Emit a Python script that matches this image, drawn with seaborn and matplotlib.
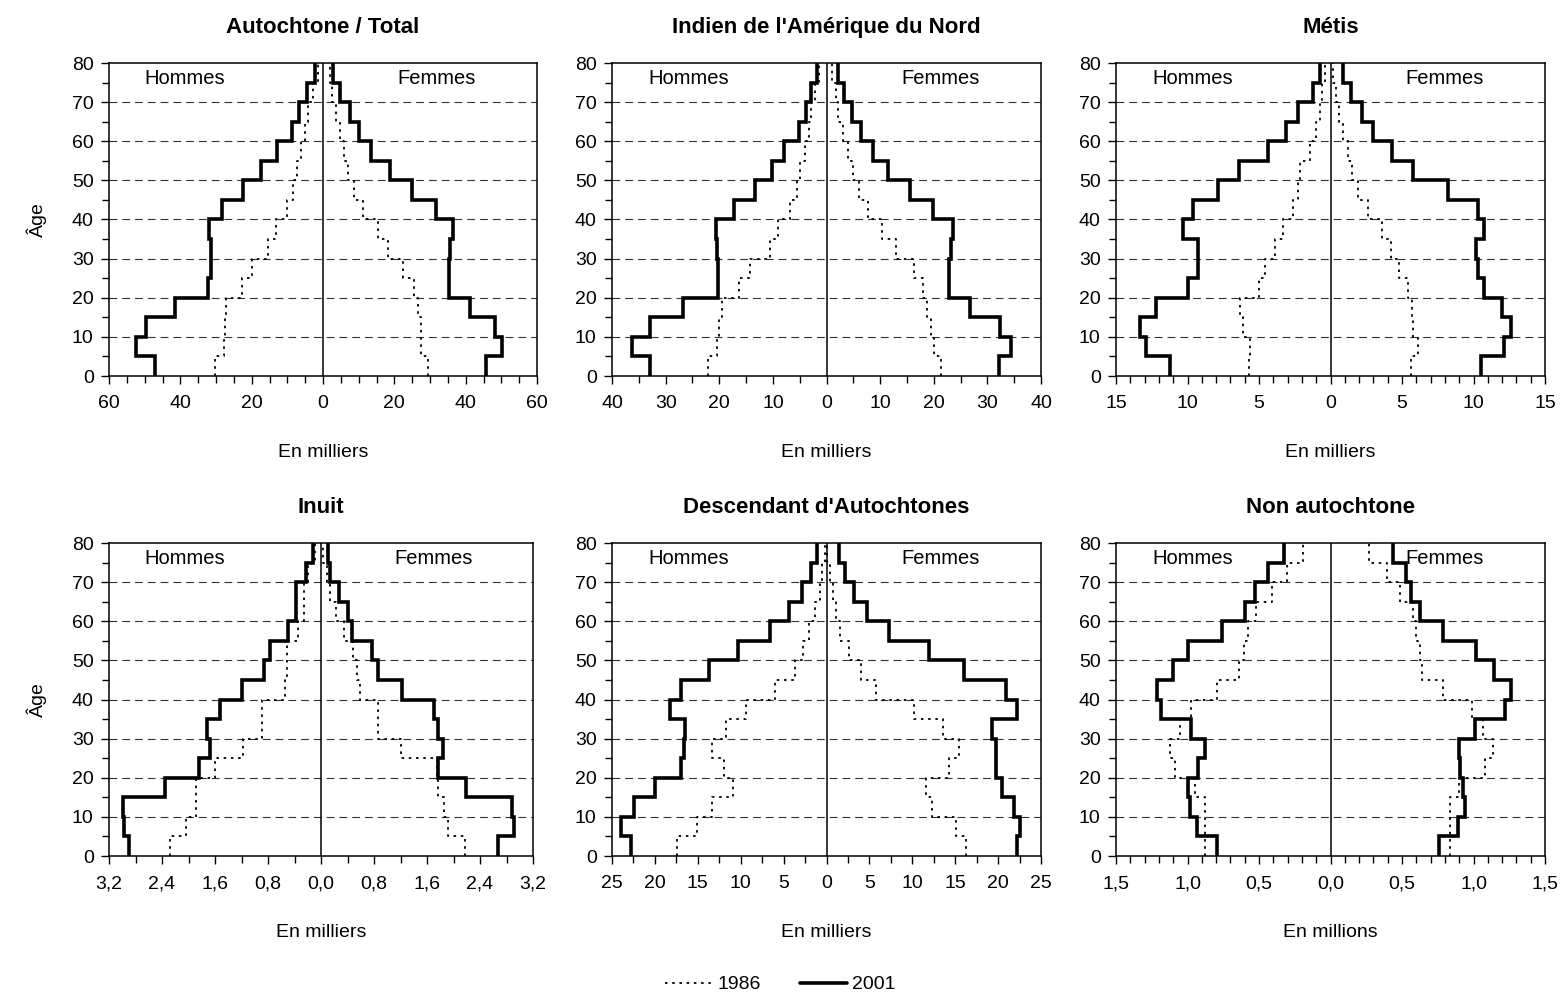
import numpy as np
import pandas as pd
import matplotlib
matplotlib.use("Agg")
import matplotlib.pyplot as plt
import seaborn as sns
from matplotlib.lines import Line2D
from matplotlib.ticker import MultipleLocator, FixedLocator, FixedFormatter

# ---------------- data (5-year age groups 0-4 ... 75-79) ----------------
age_edges = [0, 5, 10, 15, 20, 25, 30, 35, 40, 45, 50, 55, 60, 65, 70, 75, 80]

titles = ["Autochtone / Total", "Indien de l'Amérique du Nord", "Métis",
          "Inuit", "Descendant d'Autochtones", "Non autochtone"]
unit_labels = ["En milliers", "En milliers", "En milliers",
               "En milliers", "En milliers", "En millions"]

# Autochtone / Total (thousands)
tot_h2001 = [47.1, 52.3, 49.5, 41.6, 32.3, 31.5, 31.3, 32.0, 28.3, 22.3, 17.5, 13.0, 8.8, 6.8, 4.4, 2.3]
tot_h1986 = [30.3, 27.8, 27.5, 27.1, 22.8, 19.8, 15.3, 13.1, 10.0, 8.3, 7.3, 6.3, 5.1, 4.1, 2.8, 1.5]
tot_f2001 = [45.6, 50.1, 48.1, 41.1, 35.3, 35.3, 35.6, 36.4, 31.8, 24.9, 18.7, 13.4, 10.2, 7.5, 4.8, 2.8]
tot_f1986 = [29.4, 27.6, 27.4, 26.6, 25.6, 22.5, 18.2, 15.4, 11.2, 8.7, 6.9, 5.9, 4.7, 3.7, 2.5, 1.9]

# Indien de l'Amérique du Nord (thousands)
ind_h2001 = [32.9, 36.2, 32.9, 26.8, 20.3, 20.3, 20.4, 20.6, 17.3, 13.4, 10.2, 7.9, 5.2, 3.9, 2.8, 1.7]
ind_h1986 = [22.1, 20.4, 20.0, 19.4, 16.4, 14.3, 10.5, 9.0, 6.8, 5.5, 4.9, 4.1, 3.3, 2.8, 2.1, 1.4]
ind_f2001 = [32.1, 34.4, 32.4, 26.7, 22.9, 22.9, 23.2, 23.5, 19.9, 15.6, 11.4, 8.7, 6.5, 4.8, 3.3, 2.1]
ind_f1986 = [21.3, 20.1, 19.4, 18.8, 18.0, 16.3, 13.0, 10.3, 7.8, 6.0, 4.9, 4.0, 3.0, 2.1, 1.8, 1.1]

# Métis (thousands)
met_h2001 = [11.2, 12.9, 13.3, 12.2, 10.0, 9.3, 9.3, 10.3, 9.6, 7.9, 6.4, 4.4, 3.1, 2.3, 1.2, 0.75]
met_h1986 = [5.7, 5.6, 6.1, 6.3, 5.0, 4.6, 3.9, 3.3, 2.6, 2.3, 2.1, 1.4, 1.0, 0.75, 0.6, 0.35]
met_f2001 = [10.5, 12.1, 12.6, 12.0, 10.7, 10.3, 10.2, 10.7, 10.3, 8.2, 5.8, 4.3, 3.0, 2.2, 1.4, 0.9]
met_f1986 = [5.65, 6.1, 5.8, 5.7, 5.4, 4.8, 4.2, 3.6, 2.6, 1.9, 1.5, 1.2, 0.9, 0.6, 0.35, 0.2]

# Inuit (thousands)
inu_h2001 = [2.90, 2.97, 2.99, 2.35, 1.84, 1.68, 1.72, 1.52, 1.19, 0.86, 0.77, 0.50, 0.38, 0.38, 0.22, 0.12]
inu_h1986 = [2.28, 2.04, 1.89, 1.89, 1.60, 1.18, 0.89, 0.89, 0.55, 0.52, 0.52, 0.35, 0.26, 0.26, 0.19, 0.09]
inu_f2001 = [2.67, 2.92, 2.88, 2.19, 1.77, 1.84, 1.77, 1.71, 1.22, 0.86, 0.77, 0.47, 0.40, 0.27, 0.13, 0.11]
inu_f1986 = [2.18, 1.91, 1.85, 1.77, 1.75, 1.21, 0.86, 0.86, 0.59, 0.54, 0.48, 0.35, 0.22, 0.13, 0.09, 0.03]

# Descendant d'Autochtones (thousands)
des_h2001 = [22.8, 23.9, 22.4, 20.0, 17.0, 16.6, 16.5, 18.2, 17.0, 13.7, 10.3, 6.6, 4.4, 2.8, 1.85, 1.15]
des_h1986 = [17.4, 15.1, 13.4, 10.9, 11.9, 13.4, 11.7, 9.4, 6.0, 3.7, 2.7, 2.0, 1.3, 0.7, 0.5, 0.2]
des_f2001 = [22.2, 22.6, 21.8, 20.4, 19.8, 19.8, 19.3, 22.2, 20.9, 16.0, 11.9, 7.3, 4.7, 3.2, 2.2, 1.5]
des_f1986 = [16.3, 15.1, 12.3, 11.6, 14.3, 15.5, 13.6, 10.2, 5.8, 4.0, 2.6, 1.6, 1.1, 0.7, 0.4, 0.1]

# Non autochtone (millions)
non_h2001 = [0.795, 0.937, 0.981, 0.995, 0.93, 0.875, 0.976, 1.188, 1.216, 1.10, 0.995, 0.76, 0.60, 0.53, 0.44, 0.325]
non_h1986 = [0.878, 0.878, 0.878, 0.946, 1.09, 1.12, 1.05, 0.976, 0.795, 0.64, 0.605, 0.575, 0.52, 0.41, 0.305, 0.195]
non_f2001 = [0.757, 0.894, 0.941, 0.93, 0.906, 0.90, 1.012, 1.22, 1.26, 1.146, 1.02, 0.784, 0.628, 0.565, 0.525, 0.44]
non_f1986 = [0.835, 0.835, 0.835, 0.90, 1.08, 1.137, 1.066, 0.988, 0.784, 0.642, 0.624, 0.60, 0.576, 0.487, 0.395, 0.266]

panel_data = [
    (tot_h1986, tot_h2001, tot_f1986, tot_f2001),
    (ind_h1986, ind_h2001, ind_f1986, ind_f2001),
    (met_h1986, met_h2001, met_f1986, met_f2001),
    (inu_h1986, inu_h2001, inu_f1986, inu_f2001),
    (des_h1986, des_h2001, des_f1986, des_f2001),
    (non_h1986, non_h2001, non_f1986, non_f2001),
]
# axis limits, major step, minor step, decimals
x_limits = [60, 40, 15, 3.2, 25, 1.5]
x_major = [20, 10, 5, 0.8, 5, 0.5]
x_minor = [5, 5, 1, 0.4, 2.5, 0.1]
x_decimals = [0, 0, 0, 1, 0, 1]

# ---------------- style ----------------
sns.set_style("white")
plt.rcParams["font.family"] = ["Liberation Sans", "DejaVu Sans"]
plt.rcParams["text.color"] = "black"
plt.rcParams["axes.labelcolor"] = "black"
plt.rcParams["axes.titlecolor"] = "black"

W, H = 1561, 996
fig = plt.figure(figsize=(W / 100, H / 100), dpi=100)

# axes rectangles in pixels: (left, top, width, height)
rects = [
    (109, 63, 428, 313), (612, 63, 429, 313), (1116, 63, 429, 313),
    (109, 543, 424, 313), (612, 543, 429, 313), (1116, 543, 429, 313),
]

DOT = (0, (1.4, 2.6))
GRID = (0, (7, 4.5))


def step_frame(vals, sign):
    xs, ys = [], []
    for i, v in enumerate(vals):
        xs += [sign * v, sign * v]
        ys += [age_edges[i], age_edges[i + 1]]
    return pd.DataFrame({"x": xs, "age": ys})


for k, (l, t, w, h) in enumerate(rects):
    ax = fig.add_axes([l / W, 1 - (t + h) / H, w / W, h / H])
    h86, h01, f86, f01 = panel_data[k]
    for vals, sign, is2001 in [(h86, -1, False), (f86, 1, False),
                               (h01, -1, True), (f01, 1, True)]:
        df = step_frame(vals, sign)
        if is2001:
            sns.lineplot(data=df, x="x", y="age", sort=False, estimator=None,
                         color="black", linewidth=2.6, ax=ax,
                         solid_joinstyle="miter", solid_capstyle="butt")
        else:
            sns.lineplot(data=df, x="x", y="age", sort=False, estimator=None,
                         color="black", linewidth=1.3, linestyle=DOT, ax=ax)
    lim = x_limits[k]
    ax.set_xlim(-lim, lim)
    ax.set_ylim(0, 80)
    ax.axvline(0, color="black", linewidth=1.1, zorder=1)

    # y grid
    ax.yaxis.set_major_locator(MultipleLocator(10))
    ax.yaxis.set_minor_locator(MultipleLocator(5))
    for gy in range(10, 80, 10):
        ax.axhline(gy, color="#333333", linewidth=0.8, linestyle=GRID, zorder=0)

    # x ticks
    nmaj = int(round(2 * lim / x_major[k]))
    majors = [-lim + i * x_major[k] for i in range(nmaj + 1)]
    dec = x_decimals[k]
    labels = []
    for v in majors:
        s = f"{abs(v):.{dec}f}"
        labels.append(s.replace(".", ","))
    ax.xaxis.set_major_locator(FixedLocator(majors))
    ax.xaxis.set_major_formatter(FixedFormatter(labels))
    ax.xaxis.set_minor_locator(MultipleLocator(x_minor[k]))

    ax.tick_params(axis="both", which="major", direction="out", length=6,
                   width=1, color="black", labelsize=14, labelcolor="black")
    ax.tick_params(axis="both", which="minor", direction="out", length=5,
                   width=1, color="black")
    ax.tick_params(axis="x", which="major", pad=8)
    ax.tick_params(axis="y", which="major", pad=5)
    ax.tick_params(bottom=True, left=True, which="both")

    for sp in ax.spines.values():
        sp.set_visible(True)
        sp.set_color("black")
        sp.set_linewidth(1.1)

    ax.set_title(titles[k], fontsize=16, fontweight="bold", pad=21.5,
                 color="black")
    ax.set_xlabel(unit_labels[k], fontsize=14, labelpad=23, color="black")
    if k % 3 == 0:
        ax.set_ylabel("Âge", fontsize=14, labelpad=18, color="black")
    else:
        ax.set_ylabel("")

    ax.text(0.178, 0.952, "Hommes", transform=ax.transAxes, fontsize=14.5,
            ha="center", va="center", color="black")
    ax.text(0.766, 0.952, "Femmes", transform=ax.transAxes, fontsize=14.5,
            ha="center", va="center", color="black")

handles = [Line2D([], [], color="black", linewidth=1.3, linestyle=DOT),
           Line2D([], [], color="black", linewidth=2.6)]
leg = fig.legend(handles, ["1986", "2001"], loc="lower center",
                 bbox_to_anchor=(0.5, -0.015), ncol=2, frameon=False,
                 fontsize=14, handlelength=2.4, handletextpad=0.3,
                 columnspacing=2.0)
for txt in leg.get_texts():
    txt.set_color("black")

fig.savefig("out.png", dpi=100)
